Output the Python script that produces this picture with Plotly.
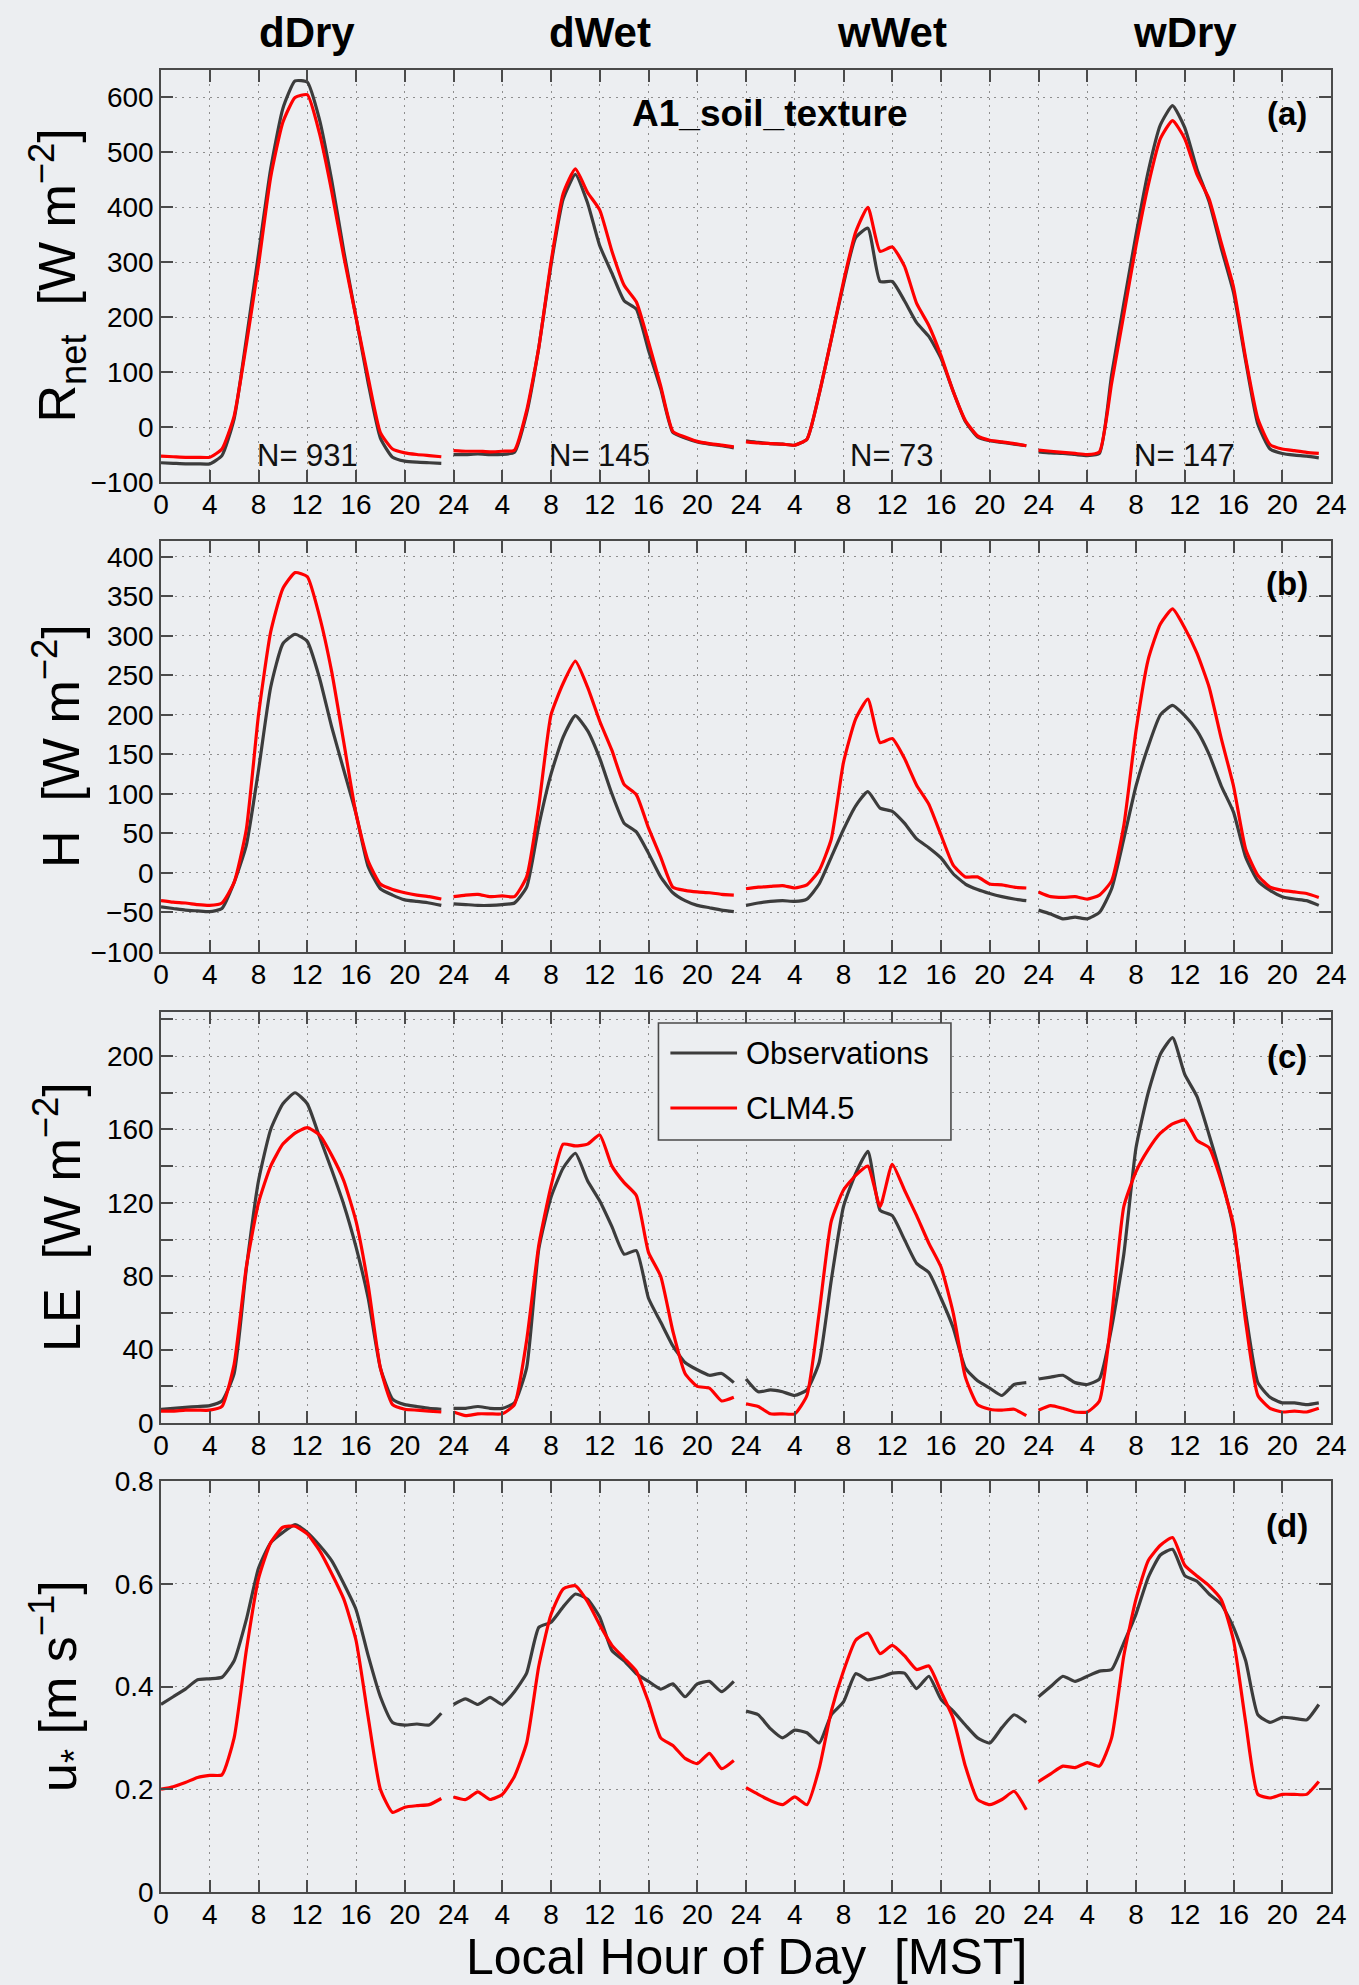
import plotly.graph_objects as go

# ---------------- data ----------------
HOURS = list(range(24))
DAYS = ["dDry", "dWet", "wWet", "wDry"]
N_LABELS = ["N= 931", "N= 145", "N= 73", "N= 147"]
XTICK_VALS = list(range(0, 97, 4))
XTICK_TEXT = ["0"] + [str(v % 24) if v % 24 else "24" for v in XTICK_VALS[1:]]
SERIES_NAMES = ["Observations", "CLM4.5"]

# Net radiation [W m-2]
RNET_OBS_DDRY = [-65, -66, -67, -67, -67, -52, 15, 160, 315, 470, 580, 630, 628, 560, 450, 320, 200, 80, -20, -55, -62, -64, -65, -66]
RNET_CLM_DDRY = [-53, -54, -55, -55, -55, -40, 20, 150, 295, 455, 555, 600, 605, 535, 430, 310, 200, 90, -10, -40, -47, -50, -52, -54]
RNET_OBS_DWET = [-50, -50, -49, -50, -50, -46, 25, 145, 295, 415, 460, 408, 330, 280, 230, 215, 140, 70, -10, -20, -27, -31, -34, -38]
RNET_CLM_DWET = [-43, -44, -44, -45, -44, -42, 30, 145, 300, 425, 470, 427, 395, 320, 258, 228, 155, 75, -8, -18, -26, -30, -33, -36]
RNET_OBS_WWET = [-25, -28, -30, -31, -33, -22, 60, 160, 260, 345, 362, 265, 265, 230, 190, 165, 125, 65, 10, -18, -25, -28, -31, -34]
RNET_CLM_WWET = [-27, -29, -30, -31, -33, -22, 60, 160, 265, 355, 400, 320, 328, 293, 225, 185, 130, 65, 12, -16, -24, -27, -30, -34]
RNET_OBS_WDRY = [-45, -47, -48, -50, -52, -48, 95, 225, 350, 465, 550, 585, 545, 470, 410, 325, 245, 120, 5, -40, -48, -51, -53, -56]
RNET_CLM_WDRY = [-42, -44, -46, -48, -50, -45, 80, 205, 330, 440, 525, 558, 525, 460, 415, 335, 255, 125, 15, -32, -40, -43, -46, -48]

# Sensible heat flux [W m-2]
H_OBS_DDRY = [-43, -45, -47, -48, -49, -45, -12, 35, 130, 235, 290, 302, 293, 247, 185, 130, 75, 8, -20, -28, -34, -36, -38, -41]
H_CLM_DDRY = [-35, -37, -38, -40, -41, -38, -12, 55, 200, 305, 360, 380, 375, 325, 255, 165, 75, 15, -14, -21, -25, -28, -30, -33]
H_OBS_DWET = [-39, -40, -41, -41, -40, -38, -18, 60, 125, 172, 199, 180, 145, 100, 63, 52, 25, -5, -25, -35, -41, -44, -47, -49]
H_CLM_DWET = [-30, -28, -27, -30, -29, -30, -5, 85, 200, 240, 268, 235, 192, 155, 112, 99, 57, 20, -18, -22, -24, -25, -27, -28]
H_OBS_WWET = [-41, -38, -36, -35, -36, -33, -14, 20, 55, 85, 103, 82, 78, 63, 43, 32, 19, -1, -14, -21, -26, -30, -33, -35]
H_CLM_WWET = [-20, -18, -17, -16, -19, -15, 3, 43, 140, 195, 220, 165, 170, 145, 111, 87, 48, 10, -5, -5, -14, -15, -18, -19]
H_OBS_WDRY = [-47, -52, -58, -56, -58, -50, -20, 43, 110, 160, 200, 212, 199, 180, 150, 110, 77, 20, -10, -22, -30, -33, -35, -41]
H_CLM_WDRY = [-24, -30, -31, -30, -33, -28, -10, 60, 180, 270, 315, 334, 310, 278, 235, 170, 110, 30, -3, -18, -22, -24, -26, -31]

# Latent heat flux [W m-2]
LE_OBS_DDRY = [7.5, 8, 8.5, 9, 9.5, 12, 27, 84, 132, 160, 174, 180, 174, 156, 138, 119, 96, 68, 30, 13, 10, 9, 8, 7.5]
LE_CLM_DDRY = [6.5, 6.5, 7, 7, 7, 9, 32, 85, 120, 140, 152, 158, 161, 157, 146, 132, 110, 75, 30, 10, 7.5, 7, 6.5, 6]
LE_OBS_DWET = [8, 8, 9, 8, 8, 11, 30, 95, 123, 139, 147, 132, 121, 107, 92, 94, 68, 55, 42, 33, 29, 26, 27, 22]
LE_CLM_DWET = [6, 4, 5, 5, 5, 10, 45, 97, 129, 152, 151, 152, 157, 140, 131, 124, 93, 80, 50, 27, 20, 19, 12, 14]
LE_OBS_WWET = [24, 17, 18, 17, 15, 18, 33, 78, 118, 136, 148, 116, 113, 100, 87, 82, 68, 52, 30, 23, 19, 15, 21, 22]
LE_CLM_WWET = [10.5, 9, 5, 5, 5, 15, 60, 110, 127, 135, 140, 118, 141, 127, 113, 98, 85, 60, 25, 10, 7.5, 7, 7.5, 4]
LE_OBS_WDRY = [24, 25, 26, 22, 21, 24, 52, 92, 150, 180, 201, 210, 190, 178, 157, 134, 106, 60, 22, 14, 11, 11, 10, 11]
LE_CLM_WDRY = [7, 9.5, 8, 6, 6, 12, 58, 118, 137, 149, 158, 163, 165, 154, 150, 132, 108, 55, 15, 8, 6, 6.5, 6, 8]

# Friction velocity [m s-1]
US_OBS_DDRY = [0.365, 0.38, 0.395, 0.413, 0.415, 0.418, 0.45, 0.53, 0.63, 0.68, 0.70, 0.715, 0.70, 0.675, 0.645, 0.60, 0.55, 0.46, 0.38, 0.33, 0.325, 0.327, 0.325, 0.348]
US_CLM_DDRY = [0.20, 0.205, 0.213, 0.223, 0.227, 0.228, 0.30, 0.47, 0.61, 0.68, 0.71, 0.712, 0.697, 0.665, 0.62, 0.57, 0.49, 0.34, 0.20, 0.155, 0.165, 0.168, 0.17, 0.182]
US_OBS_DWET = [0.365, 0.376, 0.365, 0.379, 0.365, 0.39, 0.426, 0.515, 0.525, 0.555, 0.58, 0.57, 0.535, 0.47, 0.45, 0.425, 0.41, 0.395, 0.405, 0.38, 0.405, 0.41, 0.39, 0.41]
US_CLM_DWET = [0.185, 0.18, 0.195, 0.18, 0.19, 0.225, 0.29, 0.44, 0.54, 0.59, 0.596, 0.565, 0.52, 0.48, 0.455, 0.43, 0.37, 0.30, 0.285, 0.26, 0.25, 0.27, 0.24, 0.256]
US_OBS_WWET = [0.352, 0.345, 0.318, 0.30, 0.315, 0.31, 0.29, 0.345, 0.37, 0.425, 0.413, 0.418, 0.426, 0.426, 0.396, 0.42, 0.375, 0.352, 0.325, 0.30, 0.29, 0.32, 0.345, 0.33]
US_CLM_WWET = [0.203, 0.19, 0.178, 0.17, 0.185, 0.17, 0.24, 0.352, 0.43, 0.49, 0.504, 0.464, 0.48, 0.46, 0.433, 0.44, 0.39, 0.338, 0.245, 0.18, 0.17, 0.18, 0.196, 0.16]
US_OBS_WDRY = [0.38, 0.40, 0.42, 0.41, 0.42, 0.43, 0.433, 0.485, 0.541, 0.612, 0.656, 0.667, 0.616, 0.605, 0.58, 0.56, 0.515, 0.45, 0.345, 0.33, 0.34, 0.338, 0.335, 0.365]
US_CLM_WDRY = [0.215, 0.23, 0.245, 0.242, 0.252, 0.245, 0.30, 0.46, 0.57, 0.645, 0.675, 0.69, 0.636, 0.615, 0.596, 0.569, 0.49, 0.33, 0.19, 0.183, 0.19, 0.19, 0.19, 0.215]

PANELS = [
    dict(obs=[RNET_OBS_DDRY, RNET_OBS_DWET, RNET_OBS_WWET, RNET_OBS_WDRY],
         clm=[RNET_CLM_DDRY, RNET_CLM_DWET, RNET_CLM_WWET, RNET_CLM_WDRY],
         yrange=[-100, 650], ytick=list(range(-100, 601, 100)), yminor=None,
         ytext=None,
         title="R<sub>net</sub>\u00a0\u00a0[W m<sup>\u22122</sup>]", letter="(a)", letter_y=571),
    dict(obs=[H_OBS_DDRY, H_OBS_DWET, H_OBS_WWET, H_OBS_WDRY],
         clm=[H_CLM_DDRY, H_CLM_DWET, H_CLM_WWET, H_CLM_WDRY],
         yrange=[-100, 420], ytick=list(range(-100, 401, 50)), yminor=None,
         ytext=None,
         title="H\u00a0\u00a0[W m<sup>\u22122</sup>]", letter="(b)", letter_y=366),
    dict(obs=[LE_OBS_DDRY, LE_OBS_DWET, LE_OBS_WWET, LE_OBS_WDRY],
         clm=[LE_CLM_DDRY, LE_CLM_DWET, LE_CLM_WWET, LE_CLM_WDRY],
         yrange=[0, 224], ytick=list(range(0, 201, 40)), yminor=list(range(20, 221, 40)),
         ytext=None,
         title="LE\u00a0\u00a0[W m<sup>\u22122</sup>]", letter="(c)", letter_y=200),
    dict(obs=[US_OBS_DDRY, US_OBS_DWET, US_OBS_WWET, US_OBS_WDRY],
         clm=[US_CLM_DDRY, US_CLM_DWET, US_CLM_WWET, US_CLM_WDRY],
         yrange=[0, 0.8], ytick=[0, 0.2, 0.4, 0.6, 0.8], yminor=None,
         ytext=["0", "0.2", "0.4", "0.6", "0.8"],
         title="u<sub>*</sub>\u00a0[m s<sup>\u22121</sup>]", letter="(d)", letter_y=0.714),
]

# ---------------- layout geometry ----------------
W, H = 1359, 1985
ML, MR, MT, MB = 161, 22, 70, 93
PW = W - ML - MR
PH = H - MT - MB
PANEL_PX = [(70, 482), (541, 952), (1012, 1423), (1481, 1892)]
DOMAINS = [[1 - (b - MT) / PH, 1 - (t - MT) / PH] for t, b in PANEL_PX]

BG = "#eceef1"
AX = "#4a4a4a"
GRID = "#8e8e8e"
OBS_COLOR = "#3c3c3c"
CLM_COLOR = "#ff0000"
COLORS = [OBS_COLOR, CLM_COLOR]
FONT = "Liberation Sans, Arial, Helvetica, sans-serif"
TICK_SIZE = 28


def build_xy(day_lists):
    xs, ys = [], []
    for d, vals in enumerate(day_lists):
        xs += [d * 24 + h for h in HOURS] + [None]
        ys += list(vals) + [None]
    return xs, ys


def px_x(px):
    return (px - ML) / PW


def px_y(px):
    return 1 - (px - MT) / PH


fig = go.Figure()
annotations = []
shapes = []
for i, p in enumerate(PANELS):
    n = i + 1
    xa = "x" if n == 1 else f"x{n}"
    ya = "y" if n == 1 else f"y{n}"
    for key, name, color in zip(("obs", "clm"), SERIES_NAMES, COLORS):
        xs, ys = build_xy(p[key])
        fig.add_trace(go.Scatter(x=xs, y=ys, mode="lines", name=name,
                                 line=dict(color=color, width=3.2, shape="spline", smoothing=0.5),
                                 xaxis=xa, yaxis=ya, showlegend=False,
                                 connectgaps=False))
    axis_common = dict(showline=True, linecolor=AX, linewidth=1.6, mirror="ticks",
                       ticks="inside", ticklen=12, tickwidth=1.5, tickcolor=AX,
                       showgrid=True, gridcolor=GRID, griddash="2px,5px", gridwidth=1.2,
                       zeroline=False,
                       tickfont=dict(size=TICK_SIZE, color="black", family=FONT))
    fig.layout[f"xaxis{'' if n == 1 else n}"] = dict(
        domain=[0, 1], range=[0, 96], anchor=ya, tickmode="array",
        tickvals=XTICK_VALS, ticktext=XTICK_TEXT, ticklabelstandoff=-3, **axis_common)
    yax = dict(domain=DOMAINS[i], range=p["yrange"], anchor=xa, tickmode="array",
               tickvals=p["ytick"], **axis_common)
    if p["ytext"] is not None:
        yax["ticktext"] = p["ytext"]
    if p["yminor"] is not None:
        yax["minor"] = dict(tickmode="array", tickvals=p["yminor"], ticks="inside",
                            ticklen=12, tickwidth=1.5, tickcolor=AX, showgrid=True,
                            gridcolor=GRID, griddash="2px,5px", gridwidth=1.2)
    fig.layout[f"yaxis{'' if n == 1 else n}"] = yax

    annotations.append(dict(text=p["title"], xref="paper", yref="paper", x=px_x(57),
                            y=sum(DOMAINS[i]) / 2, xanchor="center", yanchor="middle",
                            textangle=-90, showarrow=False, borderpad=0,
                            font=dict(size=52, color="black", family=FONT)))
    annotations.append(dict(text=f"<b>{p['letter']}</b>", xref=xa, yref=ya, x=92.4,
                            y=p["letter_y"], xanchor="center", yanchor="middle",
                            showarrow=False, font=dict(size=33, color="black", family=FONT)))

for d, (day, nlab) in enumerate(zip(DAYS, N_LABELS)):
    annotations.append(dict(text=f"<b>{day}</b>", xref="x", yref="paper", x=12 + 24 * d,
                            y=px_y(32), xanchor="center", yanchor="middle",
                            showarrow=False, font=dict(size=42, color="black", family=FONT)))
    annotations.append(dict(text=nlab, xref="x", yref="y", x=12 + 24 * d, y=-51,
                            xanchor="center", yanchor="middle", showarrow=False,
                            font=dict(size=31, color="#111111", family=FONT)))

annotations.append(dict(text="<b>A1_soil_texture</b>", xref="x", yref="y", x=50, y=571,
                        xanchor="center", yanchor="middle", showarrow=False,
                        font=dict(size=37, color="black", family=FONT)))
annotations.append(dict(text="Local Hour of Day\u00a0\u00a0[MST]", xref="paper", yref="paper",
                        x=0.5, y=px_y(1957), xanchor="center", yanchor="middle",
                        showarrow=False, borderpad=0,
                        font=dict(size=50, color="black", family=FONT)))

# legend box (drawn in panel c)
shapes.append(dict(type="rect", xref="paper", yref="paper",
                   x0=px_x(661), x1=px_x(955), y0=px_y(1140), y1=px_y(1023),
                   line=dict(color=AX, width=1.6), fillcolor=BG, layer="above"))
for row_px, name, color in zip((1053, 1108), SERIES_NAMES, COLORS):
    shapes.append(dict(type="line", xref="paper", yref="paper",
                       x0=px_x(673), x1=px_x(740), y0=px_y(row_px), y1=px_y(row_px),
                       line=dict(color=color, width=3.2), layer="above"))
    annotations.append(dict(text=name, xref="paper", yref="paper", x=px_x(747), y=px_y(row_px),
                            xanchor="left", yanchor="middle", showarrow=False,
                            font=dict(size=31, color="black", family=FONT)))

fig.update_layout(
    width=W, height=H,
    margin=dict(l=ML, r=MR, t=MT, b=MB, pad=0),
    paper_bgcolor=BG, plot_bgcolor=BG,
    font=dict(family=FONT, color="black"),
    annotations=annotations,
    shapes=shapes,
    showlegend=False,
)

fig.write_html("out.html")
